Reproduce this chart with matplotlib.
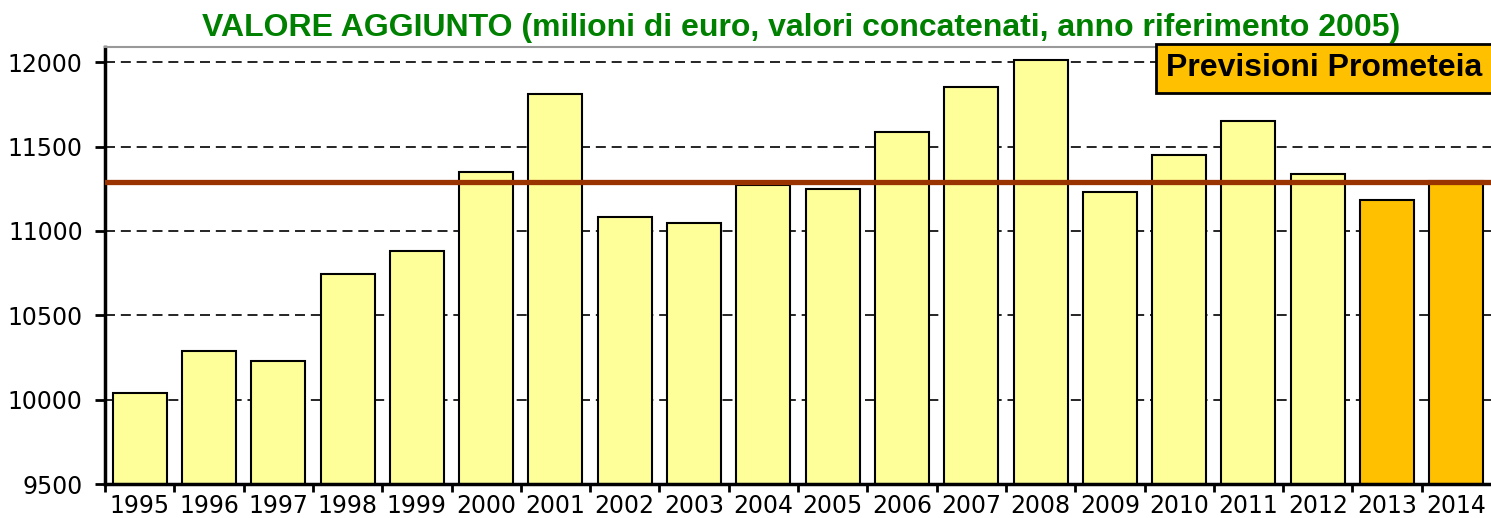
import numpy as np
import matplotlib.pyplot as plt

# ----------------------------------------------------------------------
# Dati
# ----------------------------------------------------------------------

anni = ["1995", "1996", "1997", "1998", "1999", "2000", "2001", "2002", "2003", "2004",
        "2005", "2006", "2007", "2008", "2009", "2010", "2011", "2012", "2013", "2014"]
valore_aggiunto = [10039, 10288, 10229, 10744, 10880, 11350, 11812, 11083, 11047, 11272,
                   11249, 11586, 11853, 12012, 11231, 11450, 11652, 11338, 11184, 11296]
previsione = [False] * 18 + [True, True]
media = 11290

titolo = "VALORE AGGIUNTO (milioni di euro, valori concatenati, anno riferimento 2005)"
etichetta_previsioni = "Previsioni Prometeia"

plt.rcParams['font.family'] = ['Liberation Sans', 'DejaVu Sans']

fig = plt.figure(figsize=(14.91, 5.18), dpi=100)
ax = fig.add_axes([105 / 1491, 1 - 484 / 518, 1386 / 1491, 437 / 518])

x = np.arange(len(anni))
colori = ["#FFC000" if p else "#FFFF99" for p in previsione]
ax.bar(x, valore_aggiunto, width=0.78, color=colori, edgecolor="black",
       linewidth=1.5, zorder=2)

ax.axhline(media, color="#993300", linewidth=3.8, zorder=3)

ax.set_ylim(9500, 12090)
ax.set_xlim(-0.5, len(anni) - 0.5)
ax.set_yticks([9500, 10000, 10500, 11000, 11500, 12000])
ax.yaxis.grid(True, linestyle=(0, (6, 3.5)), color="black", linewidth=1.2, zorder=0)
ax.set_axisbelow(True)

ax.set_xticks(x)
ax.set_xticklabels(anni)
ax.set_xticks(np.arange(len(anni)) - 0.5, minor=True)
ax.tick_params(axis="x", which="major", length=0, pad=7)
ax.tick_params(axis="x", which="minor", length=6, width=2, direction="out")
ax.tick_params(axis="y", length=7, width=2, direction="out", pad=9)
for lab in ax.get_xticklabels() + ax.get_yticklabels():
    lab.set_family("DejaVu Sans")
    lab.set_fontsize(17)

ax.spines["left"].set_linewidth(2.5)
ax.spines["bottom"].set_linewidth(2.5)
ax.spines["top"].set_color("#999999")
ax.spines["top"].set_linewidth(1.5)
ax.spines["right"].set_visible(False)

fig.text(0.537, 0.946, titolo, color="#008000", fontsize=23, fontweight="bold",
         ha="center", va="center")

ax.text(0.9935, 0.951, etichetta_previsioni, transform=ax.transAxes, fontsize=23,
        fontweight="bold", ha="right", va="center",
        bbox=dict(boxstyle="square,pad=0.3", facecolor="#FFC000", edgecolor="black",
                  linewidth=2), zorder=5)

fig.savefig("out.png", dpi=100)
